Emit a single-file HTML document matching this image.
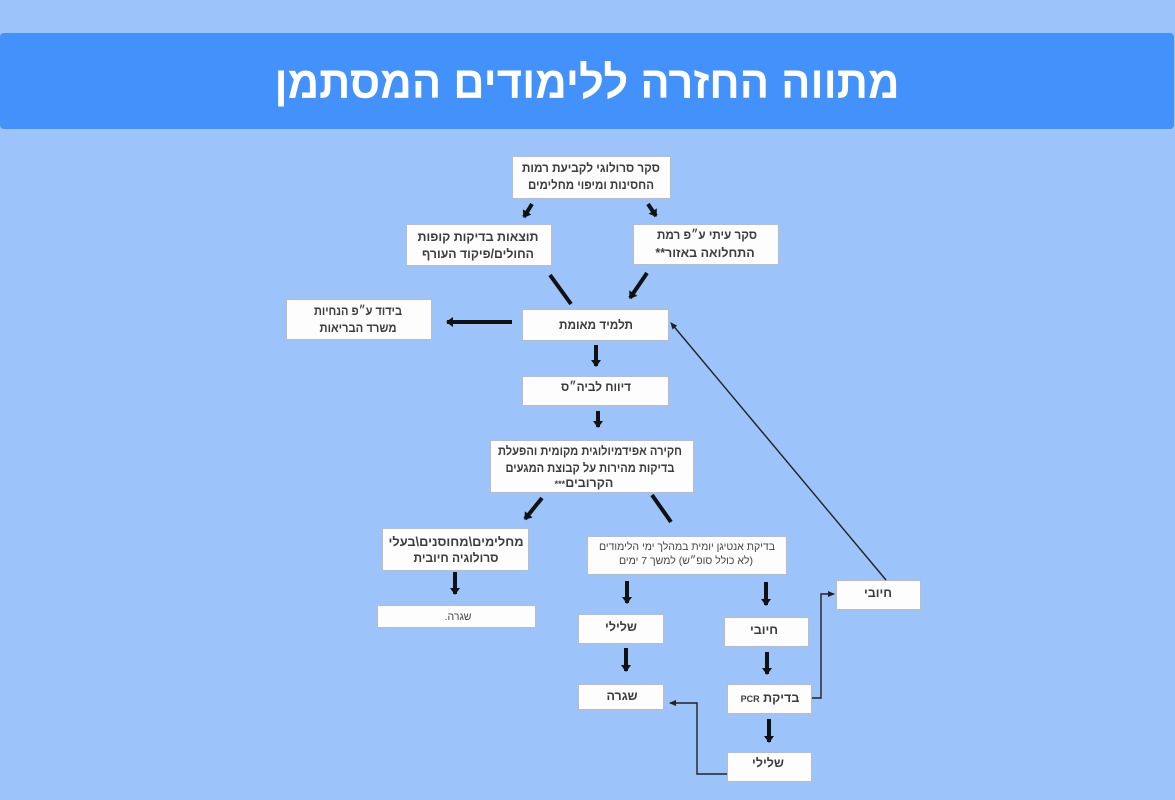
<!DOCTYPE html>
<html>
<head>
<meta charset="utf-8">
<style>
html,body{margin:0;padding:0;width:1175px;height:800px;overflow:hidden;background:#9cc3fa;}
svg{display:block;}
.bx{fill:#fdfdfd;stroke:#b9bcc2;stroke-width:1;}
.t{font-family:"Liberation Sans","DejaVu Sans",sans-serif;font-weight:bold;fill:#3c3c3c;font-size:12.5px;text-anchor:middle;}
.s{font-family:"Liberation Sans","DejaVu Sans",sans-serif;fill:#444;font-size:10.5px;text-anchor:middle;}
.th{stroke:#111;stroke-width:4;fill:none;}
.tn{stroke:#222;stroke-width:1.4;fill:none;}
</style>
</head>
<body>
<svg width="1175" height="800" viewBox="0 0 1175 800" xmlns="http://www.w3.org/2000/svg">
<defs>
<marker id="hb" markerUnits="userSpaceOnUse" markerWidth="12" markerHeight="12" refX="6" refY="6" orient="auto">
<path d="M0,1 L7,6 L0,11 Z" fill="#111"/>
</marker>
<marker id="hs" markerUnits="userSpaceOnUse" markerWidth="8" markerHeight="8" refX="6" refY="4" orient="auto">
<path d="M0,1 L7,4 L0,7 Z" fill="#222"/>
</marker>
</defs>
<rect x="0" y="0" width="1175" height="800" fill="#9cc3fa"/>
<rect x="0" y="33" width="1174" height="96" rx="4" fill="#4391fb"/>
<text x="587" y="98" direction="rtl" text-anchor="middle" textLength="625" lengthAdjust="spacingAndGlyphs" font-family="'Liberation Sans','DejaVu Sans',sans-serif" font-weight="bold" font-size="45" fill="#ffffff">מתווה החזרה ללימודים המסתמן</text>

<!-- boxes -->
<rect class="bx" x="512.5" y="156.5" width="158" height="42"/>
<rect class="bx" x="406.5" y="224.5" width="145" height="41"/>
<rect class="bx" x="633.5" y="224.5" width="145" height="40"/>
<rect class="bx" x="286.5" y="299.5" width="145" height="40"/>
<rect class="bx" x="522.5" y="309.5" width="146" height="31"/>
<rect class="bx" x="522.5" y="376.5" width="146" height="29"/>
<rect class="bx" x="490.5" y="440.5" width="203" height="52"/>
<rect class="bx" x="382.5" y="528.5" width="146" height="42"/>
<rect class="bx" x="587.5" y="536.5" width="199" height="38"/>
<rect class="bx" x="377.5" y="605.5" width="158" height="22"/>
<rect class="bx" x="578.5" y="614.5" width="85" height="29"/>
<rect class="bx" x="724.5" y="617.5" width="84" height="29"/>
<rect class="bx" x="836.5" y="580.5" width="84" height="29"/>
<rect class="bx" x="578.5" y="684.5" width="85" height="25"/>
<rect class="bx" x="727.5" y="684.5" width="84" height="29"/>
<rect class="bx" x="727.5" y="752.5" width="84" height="29"/>

<!-- texts -->
<g direction="rtl">
<text class="t" x="591" y="172" textLength="138" lengthAdjust="spacingAndGlyphs">סקר סרולוגי לקביעת רמות</text>
<text class="t" x="591" y="189" textLength="126" lengthAdjust="spacingAndGlyphs">החסינות ומיפוי מחלימים</text>

<text class="t" x="478" y="241" textLength="121" lengthAdjust="spacingAndGlyphs">תוצאות בדיקות קופות</text>
<text class="t" x="478" y="258" textLength="112" lengthAdjust="spacingAndGlyphs">החולים/פיקוד העורף</text>

<text class="t" x="707" y="239" textLength="100" lengthAdjust="spacingAndGlyphs">סקר עיתי ע״פ רמת</text>
<text class="t" x="705" y="257">התחלואה באזור**</text>

<text class="t" x="358" y="315" textLength="88" lengthAdjust="spacingAndGlyphs">בידוד ע״פ הנחיות</text>
<text class="t" x="358" y="332" textLength="77" lengthAdjust="spacingAndGlyphs">משרד הבריאות</text>

<text class="t" x="596" y="329" textLength="74" lengthAdjust="spacingAndGlyphs">תלמיד מאומת</text>
<text class="t" x="596" y="391" textLength="70" lengthAdjust="spacingAndGlyphs">דיווח לביה״ס</text>

<text class="t" x="590" y="455" textLength="184" lengthAdjust="spacingAndGlyphs">חקירה אפידמיולוגית מקומית והפעלת</text>
<text class="t" x="590" y="472" textLength="169" lengthAdjust="spacingAndGlyphs">בדיקות מהירות על קבוצת המגעים</text>
<text class="t" x="584" y="487">הקרובים<tspan font-size="9">***</tspan></text>

<text class="t" x="456" y="546" textLength="135" lengthAdjust="spacingAndGlyphs">מחלימים\מחוסנים\בעלי</text>
<text class="t" x="456" y="562" textLength="85" lengthAdjust="spacingAndGlyphs">סרולוגיה חיובית</text>

<text class="s" x="687" y="550" textLength="176" lengthAdjust="spacingAndGlyphs">בדיקת אנטיגן יומית במהלך ימי הלימודים</text>
<text class="s" x="686" y="564" textLength="134" lengthAdjust="spacingAndGlyphs">(לא כולל סופ״ש) למשך 7 ימים</text>

<text class="s" x="458" y="620">שגרה.</text>
<text class="t" x="621" y="631">שלילי</text>
<text class="t" x="764" y="634">חיובי</text>
<text class="t" x="878" y="597">חיובי</text>
<text class="t" x="622" y="700">שגרה</text>
<text class="t" x="770" y="702">בדיקת <tspan font-size="9">PCR</tspan></text>
<text class="t" x="768" y="767">שלילי</text>
</g>

<!-- thick arrows -->
<line class="th" x1="532" y1="204" x2="524" y2="217" marker-end="url(#hb)"/>
<line class="th" x1="648" y1="204" x2="656" y2="216" marker-end="url(#hb)"/>
<line class="th" x1="550" y1="275" x2="571" y2="304"/>
<line class="th" x1="647" y1="273" x2="630" y2="298" marker-end="url(#hb)"/>
<line class="th" x1="512" y1="322" x2="447" y2="322" marker-end="url(#hb)"/>
<line class="th" x1="596" y1="345" x2="596" y2="366" marker-end="url(#hb)"/>
<line class="th" x1="598" y1="411" x2="598" y2="427" marker-end="url(#hb)"/>
<line class="th" x1="542" y1="498" x2="525" y2="519" marker-end="url(#hb)"/>
<line class="th" x1="652" y1="495" x2="671" y2="522"/>
<line class="th" x1="455" y1="572" x2="455" y2="594" marker-end="url(#hb)"/>
<line class="th" x1="627" y1="581" x2="627" y2="603" marker-end="url(#hb)"/>
<line class="th" x1="766" y1="582" x2="766" y2="605" marker-end="url(#hb)"/>
<line class="th" x1="626" y1="648" x2="626" y2="671" marker-end="url(#hb)"/>
<line class="th" x1="767" y1="652" x2="767" y2="674" marker-end="url(#hb)"/>
<line class="th" x1="769" y1="719" x2="769" y2="742" marker-end="url(#hb)"/>

<!-- thin connectors -->
<polyline class="tn" points="812,698 821,698 821,594 834,594" marker-end="url(#hs)"/>
<polyline class="tn" points="727,774 697,774 697,703 670,703" marker-end="url(#hs)"/>
<line class="tn" x1="886" y1="580" x2="671" y2="323" marker-end="url(#hs)"/>
</svg>
</body>
</html>
